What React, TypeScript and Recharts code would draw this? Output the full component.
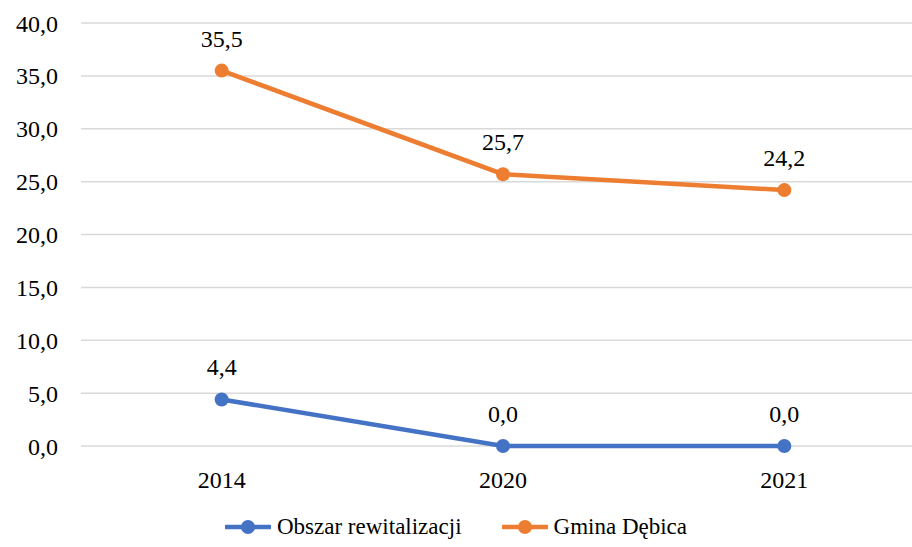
import React from 'react';
import { LineChart, Line, XAxis, YAxis, CartesianGrid, Legend, LabelList } from 'recharts';

const years = ['2014', '2020', '2021'];
const obszarValues = [4.4, 0.0, 0.0];
const gminaValues = [35.5, 25.7, 24.2];
const yTicks = [0, 5, 10, 15, 20, 25, 30, 35, 40];

const data = years.map((year, i) => ({
  year,
  obszar: obszarValues[i],
  gmina: gminaValues[i],
}));

const FONT = '"Liberation Serif", "Noto Serif", "DejaVu Serif", Tinos, FreeSerif, "Times New Roman", Times, serif';
const BLUE = '#4472C4';
const ORANGE = '#ED7D31';

const fmt = (v: any) => Number(v).toFixed(1).replace('.', ',');

const LegendContent = () => {
  const items = [
    { name: 'Obszar rewitalizacji', color: BLUE },
    { name: 'Gmina Dębica', color: ORANGE },
  ];
  return (
    <div style={{ display: 'flex', justifyContent: 'center', alignItems: 'center', height: 40, width: 912, fontFamily: FONT, fontSize: 23, color: '#000' }}>
      {items.map((it, i) => (
        <div key={it.name} style={{ display: 'flex', alignItems: 'center', marginLeft: i === 0 ? 0 : 40 }}>
          <svg width={46} height={16} style={{ marginRight: 6 }}>
            <line x1={1} y1={8} x2={45} y2={8} stroke={it.color} strokeWidth={4.5} strokeLinecap="round" />
            <circle cx={23} cy={8} r={7} fill={it.color} />
          </svg>
          <span>{it.name}</span>
        </div>
      ))}
    </div>
  );
};

export default function App() {
  return (
    <div style={{ position: 'absolute', left: 0, top: 0, width: 912, height: 547, overflow: 'hidden', background: '#fff', fontFamily: FONT }}>
      <LineChart width={925} height={547} data={data} margin={{ top: 23, right: 0, left: 0, bottom: 0 }} style={{ fontFamily: FONT }}>
        <CartesianGrid vertical={false} stroke="#d9d9d9" strokeWidth={1.5} />
        <XAxis
          dataKey="year"
          scale="band"
          axisLine={false}
          tickLine={false}
          tickSize={0}
          tickMargin={25}
          height={61}
          tick={{ fill: '#000', fontSize: 24, fontFamily: FONT }}
        />
        <YAxis
          domain={[0, 40]}
          ticks={yTicks}
          width={81}
          axisLine={false}
          tickLine={false}
          tickSize={0}
          tickMargin={23}
          tickFormatter={fmt}
          tick={{ fill: '#000', fontSize: 24, fontFamily: FONT }}
        />
        <Legend verticalAlign="bottom" align="center" content={<LegendContent />} wrapperStyle={{ left: 0, width: 912 }} />
        <Line
          dataKey="obszar"
          name="Obszar rewitalizacji"
          stroke={BLUE}
          strokeWidth={4.5}
          dot={{ r: 7, fill: BLUE, stroke: BLUE, strokeWidth: 0 }}
          isAnimationActive={false}
        >
          <LabelList dataKey="obszar" position="top" offset={24} formatter={fmt} style={{ fill: '#000', fontSize: 24, fontFamily: FONT }} />
        </Line>
        <Line
          dataKey="gmina"
          name="Gmina Dębica"
          stroke={ORANGE}
          strokeWidth={4.5}
          dot={{ r: 7, fill: ORANGE, stroke: ORANGE, strokeWidth: 0 }}
          isAnimationActive={false}
        >
          <LabelList dataKey="gmina" position="top" offset={24} formatter={fmt} style={{ fill: '#000', fontSize: 24, fontFamily: FONT }} />
        </Line>
      </LineChart>
    </div>
  );
}
